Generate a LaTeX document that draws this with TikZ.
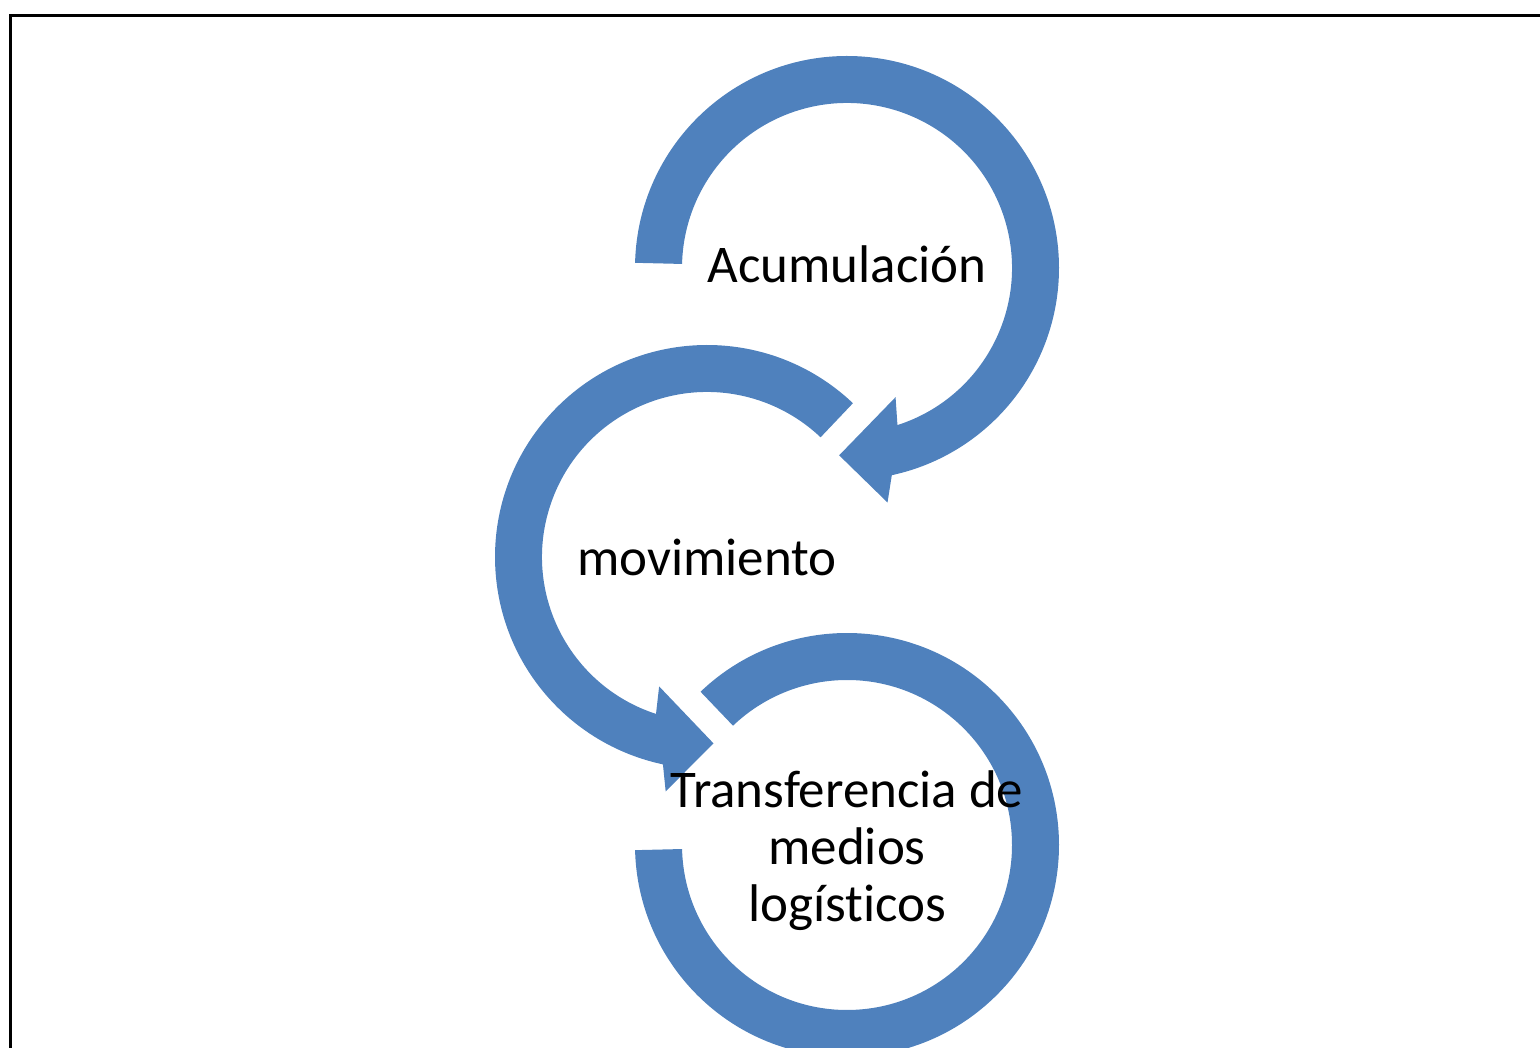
\documentclass[tikz,border=0pt]{standalone}
\usepackage{fontspec}
\setmainfont{Carlito}[Ligatures=NoCommon]
\usepackage{xcolor}
\definecolor{arrowblue}{HTML}{4F81BD}

\tikzset{
	cyclearrow/.style={fill=arrowblue},
	phaselabel/.style={font=\fontsize{26.5}{28.5}\selectfont, inner sep=0pt, align=center}
}

\begin{document}
\begin{tikzpicture}[x=0.5pt,y=0.5pt]
\useasboundingbox (0,0) rectangle (1540,1048);
\clip (0,0) rectangle (1540,1048);
\draw[line width=1.1pt] (10.5,-10) -- (10.5,1032.5) -- (1560,1032.5);

\coordinate (c1) at (847,780);
\coordinate (c2) at (707,491);
\coordinate (c3) at (847,203);

% first ring, clockwise
\fill[cyclearrow, shift={(c1)}] (178.6:212) arc[start angle=178.6, end angle=-77.8, radius=212]
	-- (-80.2:238) -- (-92.4:187.5) -- (-69.4:138) -- (-72.2:165)
	arc[start angle=-72.2, end angle=178.6, radius=165] -- cycle;

% second ring, counter clockwise
\fill[cyclearrow, shift={(c2)}] (46.5:212) arc[start angle=46.5, end angle=258, radius=212]
	-- (260:238) -- (272:186.5) -- (249.7:138) -- (252:165)
	arc[start angle=252, end angle=46.5, radius=165] -- cycle;

% last ring, no head
\fill[cyclearrow, shift={(c3)}] (133.7:212) arc[start angle=133.7, end angle=-178.6, radius=212]
	-- (-178.6:165) arc[start angle=-178.6, end angle=133.7, radius=165] -- cycle;

\node[phaselabel, anchor=base] (acum) at (847,765) {Acumulación};
\node[phaselabel, anchor=base] (mov) at (707,472) {movimiento};
\node[phaselabel] (trans) at (847,197) {Transferencia de\\medios\\logísticos};
\end{tikzpicture}
\end{document}
